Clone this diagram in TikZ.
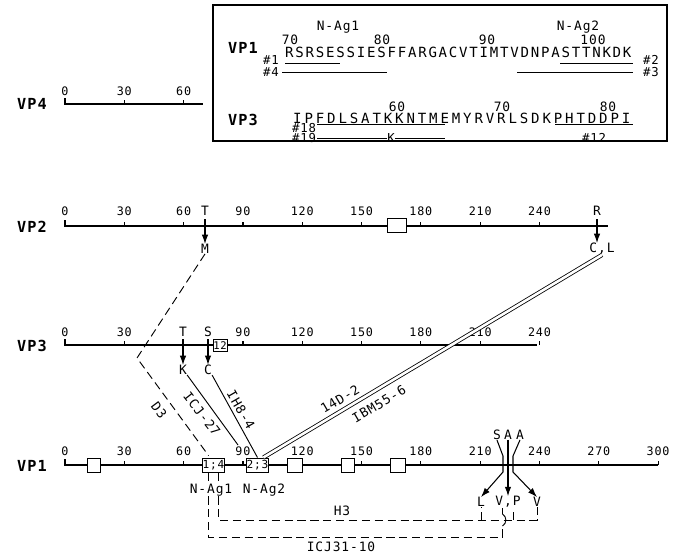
\documentclass[tikz,border=0pt]{standalone}
\usepackage{fontspec}
\setmainfont{DejaVu Sans Mono}[LetterSpace=7]
\newfontfamily\seqafont{DejaVu Sans Mono}[LetterSpace=12.6]
\newfontfamily\seqbfont{DejaVu Sans Mono}[LetterSpace=20.4]
\usetikzlibrary{arrows.meta}

\begin{document}
\begin{tikzpicture}[x=0.03cm,y=-0.03cm,
  axisline/.style={line width=1pt},
  ticknum/.style={font=\fontsize{10}{11}\selectfont,inner sep=0pt},
  vplab/.style={font=\fontsize{13}{15}\selectfont\bfseries,inner sep=0pt},
  res/.style={font=\fontsize{11}{12}\selectfont,inner sep=0pt},
  ablab/.style={font=\fontsize{11}{12}\selectfont,inner sep=0pt},
  pep/.style={font=\fontsize{10.5}{11}\selectfont,inner sep=0pt},
  dombox/.style={draw,fill=white,line width=0.8pt,minimum width=12pt,
    minimum height=12pt,inner sep=0pt},
  sitebox/.style={dombox,minimum width=18pt,font=\fontsize{9.5}{10}\selectfont},
  mut/.style={-{Latex[length=8pt,width=5.5pt]},line width=0.9pt},
  mab/.style={line width=0.8pt},
  dline/.style={line width=0.8pt,dash pattern=on 7pt off 4pt},
]
  % Page frame in pixel units (y runs downward).
  \useasboundingbox (0,0) rectangle (675,556);
  % Residue scale: 1.977 px per residue, residue 0 at x = 65.
  \def\xs{1.977}
  \def\xo{65}

  % Sequence inset.
  \draw[line width=1.1pt] (213,5) rectangle (667,141);
  \node[res] (nag1t) at (338,27) {N-Ag1};
  \node[res] (nag2t) at (578,27) {N-Ag2};
  \node[vplab] (vp1t) at (243,48) {VP1};
  \node[vplab] (vp3t) at (243,120) {VP3};
  \foreach \n/\x in {70/290,80/382,90/487,100/593}
    \node[res] (s1-\n) at (\x,40) {\n};
  \foreach \n/\x in {60/397,70/502,80/608}
    \node[res] (s3-\n) at (\x,107) {\n};
  \node[font=\seqafont\fontsize{12}{13}\selectfont,inner sep=0pt,anchor=west]
    (seq1) at (285,52) {RSRSESSIESFFARGACVTIMTVDNPASTTNKDK};
  \node[font=\seqbfont\fontsize{12}{13}\selectfont,inner sep=0pt,anchor=west]
    (seq3) at (293,118) {IPFDLSATKKNTMEMYRVRLSDKPHTDDPI};
  % Peptides under the sequences.
  \node[pep] (p1) at (271,60) {\#1};
  \node[pep] (p4) at (271,72) {\#4};
  \node[pep] (p2) at (651,60) {\#2};
  \node[pep] (p3) at (651,72) {\#3};
  \node[pep] (p18) at (304,128) {\#18};
  \node[pep] (p19) at (304,138) {\#19};
  \node[pep] (p12) at (594,138) {\#12};
  \node[pep] (k19) at (391,138) {K};
  \draw[mab] (285,63) -- (340,63);
  \draw[mab] (282,72) -- (387,72);
  \draw[mab] (560,63) -- (633,63);
  \draw[mab] (517,72) -- (633,72);
  \draw[mab] (317,124.5) -- (445,124.5);
  \draw[mab] (317,138) -- (k19.west);
  \draw[mab] (k19.east) -- (445,138);
  \draw[mab] (555,124.5) -- (633,124.5);

  % VP4 axis.
  \node[vplab] (vp4) at (32,104) {VP4};
  \draw[axisline] (\xo,98) -- (\xo,104) -- (203,104);
  \foreach \v in {30,60}
    \draw[axisline] (\xo+\v*\xs,104) -- ++(0,-4);
  \foreach \v in {0,30,60}
    \node[ticknum] (t4-\v) at (\xo+\v*\xs,91) {\v};

  % VP2 axis.
  \node[vplab] (vp2) at (32,227) {VP2};
  \draw[axisline] (\xo,220) -- (\xo,226) -- (608,226);
  \foreach \v in {30,60,...,240}
    \draw[axisline] (\xo+\v*\xs,226) -- ++(0,-4);
  \foreach \v in {0,30,...,240}
    \node[ticknum] (t2-\v) at (\xo+\v*\xs,211) {\v};
  \node[dombox,minimum width=17pt] (d2) at (397,225) {};
  \node[res] (T2) at (205,211) {T};
  \node[res] (M2) at (205,249) {M};
  \node[res] (R2) at (597,211) {R};
  \node[res] (CL2) at (602,249) {C,L};
  \draw[mut] ([yshift=-3pt]T2.south) -- (M2.north);
  \draw[mut] ([yshift=-3pt]R2.south) -- (R2.south |- CL2.north);

  % VP3 axis.
  \node[vplab] (vp3) at (32,346) {VP3};
  \draw[axisline] (\xo,339) -- (\xo,345) -- (537,345);
  \foreach \v in {30,60,...,240}
    \draw[axisline] (\xo+\v*\xs,345) -- ++(0,-4);
  \foreach \v in {0,30,90,120,150,180,210,240}
    \node[ticknum] (t3-\v) at (\xo+\v*\xs,332) {\v};
  \node[dombox,minimum width=12pt,minimum height=9.5pt,
    font=\fontsize{9}{9}\selectfont] (b12) at (220,345.5) {12};
  \node[res] (T3) at (183,332) {T};
  \node[res] (K3) at (183,370) {K};
  \node[res] (S3) at (208,332) {S};
  \node[res] (C3) at (208,370) {C};
  \draw[mut] ([yshift=-2pt]T3.south) -- (K3.north);
  \draw[mut] ([yshift=-2pt]S3.south) -- (C3.north);

  % VP1 axis.
  \node[vplab] (vp1) at (32,466) {VP1};
  \draw[axisline] (\xo,459) -- (\xo,465) -- (658,465);
  \foreach \v in {30,60,...,300}
    \draw[axisline] (\xo+\v*\xs,465) -- ++(0,-4);
  \foreach \v in {0,30,...,300}
    \node[ticknum] (t1-\v) at (\xo+\v*\xs,451) {\v};
  \node[dombox,minimum width=10.5pt] (d1a) at (94,465) {};
  \node[sitebox] (b14) at (213.5,465) {1;4};
  \node[sitebox] (b23) at (257.5,465) {2;3};
  \node[dombox,minimum width=13.5pt] (d1b) at (295,465) {};
  \node[dombox,minimum width=10.5pt] (d1c) at (348,465) {};
  \node[dombox,minimum width=13.5pt] (d1d) at (398,465) {};
  \node[res] (nag1) at (211,490) {N-Ag1};
  \node[res] (nag2) at (264,490) {N-Ag2};
  \node[res] (S1) at (497,435) {S};
  \node[res] (A1) at (508,435) {A};
  \node[res] (A2) at (520,435) {A};
  \node[res] (L1) at (481,502) {L};
  \node[res] (VP) at (508,502) {V,P};
  \node[res] (V1) at (537,502) {V};
  \draw[mut] (S1.south) -- (503,456) -- (503,472) -- (L1.north);
  \draw[mut] (A1.south) -- (VP.north);
  \draw[mut] (A2.south) -- (513,456) -- (513,472) -- (V1.north);

  % Antibody escape lines.
  \coordinate (bend) at (137,358);
  \coordinate (e27) at (238,445);
  \draw[dline,shorten >=2pt] (M2.south) -- (bend) -- ([xshift=-3pt]b14.north);
  \draw[mab] (K3.south east) -- (e27);
  \draw[mab] (C3.south east) -- (b23.north);
  \draw[mab,line width=0.7pt,double,double distance=2.2pt]
    (CL2.south) -- ([xshift=5pt]b23.north);
  \node[ablab,rotate=-53] (lD3) at (159,410) {D3};
  \node[ablab,rotate=-52] (l27) at (202,414) {ICJ-27};
  \node[ablab,rotate=-60] (l84) at (241,410) {IH8-4};
  \node[ablab,rotate=30.7] (l142) at (340,399) {14D-2};
  \node[ablab,rotate=30.7] (l556) at (379,404) {IBM55-6};

  % Dashed links below VP1.
  \coordinate (icj) at (208,537);
  \coordinate (h3) at (218,520);
  \coordinate (px) at (513.5,520);
  \coordinate (vx) at (502.5,537);
  \draw[dline] (b14.south -| icj) -- (nag1.north -| icj);
  \draw[dline] (b14.south -| h3) -- (nag1.north -| h3);
  \draw[dline] (nag1.south -| h3) -- (h3) -- (h3 -| V1) -- (V1.south);
  \draw[dline] (h3 -| L1) -- (L1.south);
  \draw[dline] (px) -- (px |- VP.south);
  \draw[dline] (nag1.south -| icj) -- (icj) -- (vx) -- (502.5,526);
  \draw[mab] (502.5,526) .. controls (507,523) and (507,517) .. (502.5,514);
  \draw[mab] (502.5,514) -- (vx |- VP.south);
  \node[ablab] (lH3) at (342,511) {H3};
  \node[ablab] (lICJ) at (341,547) {ICJ31-10};
\end{tikzpicture}
\end{document}
